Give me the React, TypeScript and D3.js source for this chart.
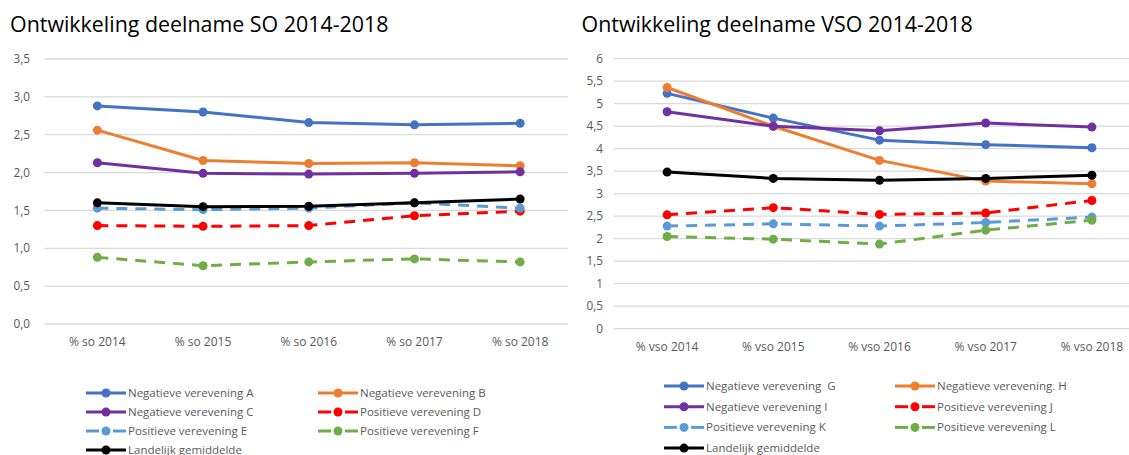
import * as d3 from "d3";

const soCategories = ["% so 2014", "% so 2015", "% so 2016", "% so 2017", "% so 2018"];
const vsoCategories = ["% vso 2014", "% vso 2015", "% vso 2016", "% vso 2017", "% vso 2018"];

const soTicks = [0, 0.5, 1, 1.5, 2, 2.5, 3, 3.5];
const soTickLabels = ["0,0", "0,5", "1,0", "1,5", "2,0", "2,5", "3,0", "3,5"];
const vsoTicks = [0, 0.5, 1, 1.5, 2, 2.5, 3, 3.5, 4, 4.5, 5, 5.5, 6];
const vsoTickLabels = ["0", "0,5", "1", "1,5", "2", "2,5", "3", "3,5", "4", "4,5", "5", "5,5", "6"];

const soNames = [
  "Negatieve verevening A",
  "Negatieve verevening B",
  "Negatieve verevening C",
  "Positieve verevening D",
  "Positieve verevening E",
  "Positieve verevening F",
  "Landelijk gemiddelde",
];
const vsoNames = [
  "Negatieve verevening  G",
  "Negatieve verevening. H",
  "Negatieve verevening I",
  "Positieve verevening J",
  "Positieve verevening K",
  "Positieve verevening L",
  "Landelijk gemiddelde",
];

// SO values
const soA = [2.88, 2.8, 2.66, 2.63, 2.65];
const soB = [2.56, 2.16, 2.12, 2.13, 2.09];
const soC = [2.13, 1.99, 1.98, 1.99, 2.01];
const soD = [1.3, 1.29, 1.3, 1.43, 1.49];
const soE = [1.53, 1.51, 1.53, 1.6, 1.53];
const soF = [0.88, 0.77, 0.82, 0.86, 0.82];
const soAvg = [1.6, 1.55, 1.555, 1.6, 1.65];

// VSO values
const vsoG = [5.23, 4.68, 4.19, 4.09, 4.02];
const vsoH = [5.36, 4.5, 3.74, 3.28, 3.22];
const vsoI = [4.82, 4.5, 4.4, 4.57, 4.48];
const vsoJ = [2.53, 2.69, 2.54, 2.57, 2.85];
const vsoK = [2.28, 2.33, 2.28, 2.36, 2.48];
const vsoL = [2.05, 1.99, 1.88, 2.19, 2.41];
const vsoAvg = [3.48, 3.34, 3.3, 3.34, 3.41];

const colors = ["#4472C4", "#ED7D31", "#7030A0", "#FF0000", "#5B9BD5", "#70AD47", "#000000"];
const dashed = [false, false, false, true, true, true, false];

const FONT = "'Open Sans', 'Noto Sans', sans-serif";

function Panel({ title, titleX, categories, values, names, ticks, tickLabels, yMax, left, right, top, bottom, gridRight, labelX, catY, legendX, legendY, legendStep }) {
  const x = d3.scalePoint().domain(categories).range([left, right]).padding(0.5);
  const y = d3.scaleLinear().domain([0, yMax]).range([bottom, top]);
  const line = d3
    .line<number>()
    .x((_, i) => x(categories[i]))
    .y((d) => y(d));

  const legendOrder = [[0, 1], [2, 3], [4, 5], [6]];

  return (
    <g>
      <text x={titleX} y={32} fontSize={21.4} fill="#000" fontFamily={FONT}>
        {title}
      </text>
      {ticks.map((t, i) => (
        <g key={t}>
          <line x1={left} x2={gridRight} y1={y(t)} y2={y(t)} stroke="#D9D9D9" strokeWidth={1.3} />
          <text x={labelX} y={y(t)} dy="0.35em" textAnchor="end" fontSize={11.8} fill="#595959" fontFamily={FONT}>
            {tickLabels[i]}
          </text>
        </g>
      ))}
      {categories.map((c) => (
        <text key={c} x={x(c)} y={catY} textAnchor="middle" fontSize={12} fill="#595959" fontFamily={FONT}>
          {c}
        </text>
      ))}
      {values.map((vals, s) => (
        <g key={s}>
          <path
            d={line(vals)}
            fill="none"
            stroke={colors[s]}
            strokeWidth={3}
            strokeDasharray={dashed[s] ? "11 8" : undefined}
            strokeLinejoin="round"
          />
          {vals.map((v, i) => (
            <circle key={i} cx={x(categories[i])} cy={y(v)} r={4.5} fill={colors[s]} />
          ))}
        </g>
      ))}
      {legendOrder.map((row, r) =>
        row.map((s, c) => {
          const lx = legendX[c];
          const ly = legendY + r * legendStep;
          return (
            <g key={s}>
              {dashed[s] ? (
                <>
                  <line x1={lx} x2={lx + 13} y1={ly} y2={ly} stroke={colors[s]} strokeWidth={3} />
                  <line x1={lx + 27} x2={lx + 40} y1={ly} y2={ly} stroke={colors[s]} strokeWidth={3} />
                </>
              ) : (
                <line x1={lx} x2={lx + 40} y1={ly} y2={ly} stroke={colors[s]} strokeWidth={3} />
              )}
              <circle cx={lx + 20} cy={ly} r={4.5} fill={colors[s]} />
              <text
                x={lx + 42}
                y={ly}
                dy="0.35em"
                fontSize={11.5}
                fill="#595959"
                fontFamily={FONT}
                style={{ whiteSpace: "pre" }}
              >
                {names[s]}
              </text>
            </g>
          );
        })
      )}
    </g>
  );
}

export default function App() {
  return (
    <svg width={1129} height={455} style={{ position: "absolute", left: 0, top: 0, background: "#fff" }}>
      <Panel
        title="Ontwikkeling deelname SO 2014-2018"
        titleX={10}
        categories={soCategories}
        values={[soA, soB, soC, soD, soE, soF, soAvg]}
        names={soNames}
        ticks={soTicks}
        tickLabels={soTickLabels}
        yMax={3.5}
        left={44.5}
        right={573}
        top={59}
        bottom={324}
        gridRight={568}
        labelX={30}
        catY={346}
        legendX={[86, 318]}
        legendY={393}
        legendStep={19}
      />
      <Panel
        title="Ontwikkeling deelname VSO 2014-2018"
        titleX={581.5}
        categories={vsoCategories}
        values={[vsoG, vsoH, vsoI, vsoJ, vsoK, vsoL, vsoAvg]}
        names={vsoNames}
        ticks={vsoTicks}
        tickLabels={vsoTickLabels}
        yMax={6}
        left={614}
        right={1145}
        top={58.7}
        bottom={328.7}
        gridRight={1129}
        labelX={603}
        catY={351}
        legendX={[664, 895]}
        legendY={386}
        legendStep={20.7}
      />
    </svg>
  );
}
